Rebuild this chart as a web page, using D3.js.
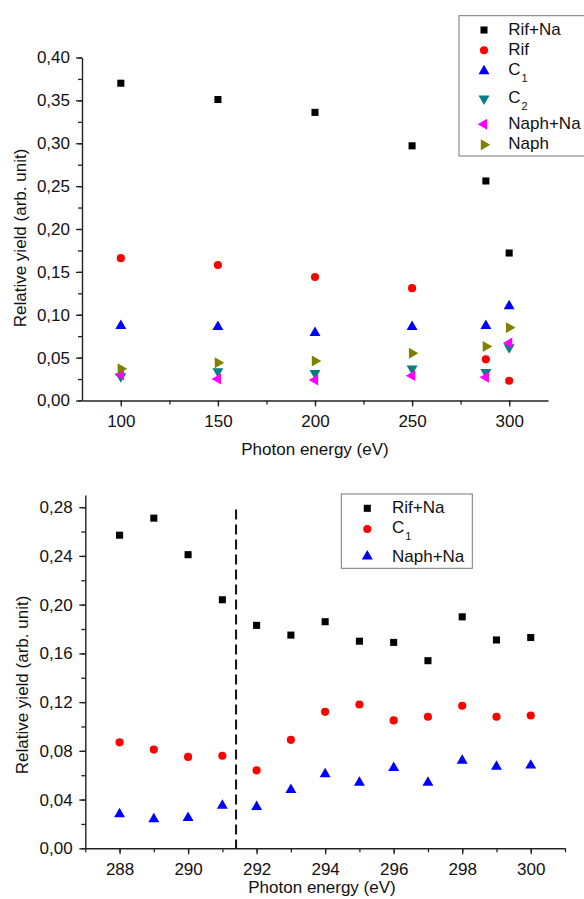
<!DOCTYPE html>
<html>
<head>
<meta charset="utf-8">
<script src="https://cdn.jsdelivr.net/npm/d3@7"></script>
<style>
  body { margin: 0; background: #fff; }
  text { font-family: Arial, "Liberation Sans", sans-serif; fill: #111; }
</style>
</head>
<body>
<div id="vis"></div>
<script>
// top panel: 100-300 eV
const energyTop = [100, 150, 200, 250, 288, 300];
const rifNaTop  = [0.370, 0.351, 0.336, 0.297, 0.256, 0.172];
const rifTop    = [0.166, 0.158, 0.144, 0.131, 0.048, 0.023];
const c1Top     = [0.087, 0.086, 0.079, 0.086, 0.087, 0.110];
const c2Top     = [0.028, 0.034, 0.032, 0.037, 0.033, 0.062];
const naphNaTop = [0.030, 0.025, 0.024, 0.029, 0.027, 0.067];
const naphTop   = [0.037, 0.044, 0.046, 0.055, 0.063, 0.085];
const topXTicks = [100, 150, 200, 250, 300];
const topYTicks = [0, 0.05, 0.10, 0.15, 0.20, 0.25, 0.30, 0.35, 0.40];

// bottom panel: 288-300 eV
const energyBottom = [288, 289, 290, 291, 292, 293, 294, 295, 296, 297, 298, 299, 300];
const rifNaBottom  = [0.257, 0.271, 0.241, 0.204, 0.183, 0.175, 0.186, 0.170, 0.169, 0.154, 0.190, 0.171, 0.173];
const c1Bottom     = [0.087, 0.081, 0.075, 0.076, 0.064, 0.089, 0.112, 0.118, 0.105, 0.108, 0.117, 0.108, 0.109];
const naphNaBottom = [0.028, 0.024, 0.025, 0.035, 0.034, 0.048, 0.061, 0.054, 0.066, 0.054, 0.072, 0.067, 0.068];
const bottomXTicks = [288, 290, 292, 294, 296, 298, 300];
const bottomYTicks = [0, 0.04, 0.08, 0.12, 0.16, 0.20, 0.24, 0.28];
const edgeEnergy = 291.4;

const comma = d3.formatLocale({decimal: ",", thousands: ".", grouping: [3], currency: ["", ""]});
const fmt2 = comma.format(".2f");

let svg = d3.select("#vis").append("svg")
    .attr("width", 584)
    .attr("height", 899);

// marker shapes
const shapes = {
  square: {type: d3.symbolSquare, size: 50, rot: 0},
  circle: {type: d3.symbolCircle, size: 52, rot: 0},
  up:     {type: d3.symbolTriangle, size: 52, rot: 0},
  down:   {type: d3.symbolTriangle, size: 52, rot: 180},
  left:   {type: d3.symbolTriangle, size: 52, rot: -90},
  right:  {type: d3.symbolTriangle, size: 52, rot: 90}
};

function marker(g, shape, color, cx, cy){
  let s = shapes[shape];
  g.append("path")
    .attr("d", d3.symbol().type(s.type).size(s.size)())
    .attr("transform", "translate(" + cx + "," + cy + ")rotate(" + s.rot + ")")
    .attr("fill", color);
}

function drawAxes(x, y, xTicks, xMinor, yTicks, yMinor, xPad, yPad){
  let h = y.range()[0];
  let left = x.range()[0];
  // minor ticks first
  svg.append("g")
    .attr("transform", "translate(0," + h + ")")
    .call(d3.axisBottom(x).tickValues(xMinor).tickSize(4).tickSizeOuter(0).tickFormat(""))
    .call(g => g.select(".domain").remove());
  svg.append("g")
    .attr("transform", "translate(" + left + ",0)")
    .call(d3.axisLeft(y).tickValues(yMinor).tickSize(4).tickSizeOuter(0).tickFormat(""))
    .call(g => g.select(".domain").remove());

  let gx = svg.append("g")
    .attr("transform", "translate(0," + h + ")")
    .call(d3.axisBottom(x).tickValues(xTicks).tickSize(6).tickSizeOuter(0).tickPadding(xPad));
  let gy = svg.append("g")
    .attr("transform", "translate(" + left + ",0)")
    .call(d3.axisLeft(y).tickValues(yTicks).tickSize(6).tickSizeOuter(0).tickPadding(yPad).tickFormat(fmt2));
  [gx, gy].forEach(function(g){
    g.selectAll("text").style("font-size", "17px").attr("fill", "#111");
    g.select(".domain").attr("stroke", "#222").attr("stroke-width", 1.4);
  });
  svg.selectAll("g line").attr("stroke", "#222").attr("stroke-width", 1.3);
}

function titles(xLabel, xx, xy, yx, yy){
  svg.append("text")
    .attr("x", xx).attr("y", xy)
    .attr("text-anchor", "middle")
    .style("font-size", "17px")
    .text(xLabel);
  svg.append("text")
    .attr("transform", "translate(" + yx + "," + yy + ")rotate(-90)")
    .attr("text-anchor", "middle")
    .style("font-size", "17px")
    .text("Relative yield (arb. unit)");
}

function legend(box, items, symX, textX){
  svg.append("rect")
    .attr("x", box[0]).attr("y", box[1])
    .attr("width", box[2]).attr("height", box[3])
    .attr("fill", "#fff")
    .attr("stroke", "#777")
    .attr("stroke-width", 1);
  items.forEach(function(it){
    marker(svg, it.shape, it.color, symX, it.sy);
    let t = svg.append("text")
      .attr("x", textX).attr("y", it.ty)
      .style("font-size", "17px")
      .text(it.label);
    if(it.sub){
      t.append("tspan")
        .attr("dx", 1).attr("dy", 7)
        .style("font-size", "11px")
        .text(it.sub);
    }
  });
}

// ---------- top chart ----------
let x1 = d3.scaleLinear().domain([80, 320]).range([82, 548]);
let y1 = d3.scaleLinear().domain([0, 0.40]).range([400.5, 57.5]);

drawAxes(x1, y1, topXTicks, d3.range(100, 325, 25), topYTicks, d3.range(0, 0.41, 0.025), 8.5, 6);
titles("Photon energy (eV)", 315, 454.5, 26, 238);

const topSeries = [
  {vals: rifNaTop,  shape: "square", color: "#000000", label: "Rif+Na"},
  {vals: rifTop,    shape: "circle", color: "#ff0000", label: "Rif"},
  {vals: c1Top,     shape: "up",     color: "#0000ff", label: "C", sub: "1"},
  {vals: c2Top,     shape: "down",   color: "#008080", label: "C", sub: "2"},
  {vals: naphNaTop, shape: "left",   color: "#ff00ff", label: "Naph+Na"},
  {vals: naphTop,   shape: "right",  color: "#808000", label: "Naph"}
];
let gTop = svg.append("g");
topSeries.forEach(function(s){
  s.vals.forEach(function(v, i){
    marker(gTop, s.shape, s.color, x1(energyTop[i]), y1(v));
  });
});

const topLegendPos = [[30, 35], [50.3, 55.3], [71, 75], [98.7, 102.7], [124.3, 129], [144.7, 149.3]];
legend([459, 15.7, 140, 140.3],
  topSeries.map((s, i) => Object.assign({}, s, {sy: topLegendPos[i][0], ty: topLegendPos[i][1]})),
  484, 508.3);

// ---------- bottom chart ----------
let x2 = d3.scaleLinear().domain([287, 301]).range([85.3, 565]);
let y2 = d3.scaleLinear().domain([0, 0.29]).range([848.3, 495]);

drawAxes(x2, y2, bottomXTicks, d3.range(287, 302, 1), bottomYTicks, d3.range(0, 0.29, 0.02), 9, 6.6);
titles("Photon energy (eV)", 322, 893, 28, 685);

svg.append("line")
  .attr("x1", x2(edgeEnergy)).attr("x2", x2(edgeEnergy))
  .attr("y1", y2(0.278)).attr("y2", y2(0))
  .attr("stroke", "#111")
  .attr("stroke-width", 2)
  .attr("stroke-dasharray", "10,5");

const bottomSeries = [
  {vals: rifNaBottom,  shape: "square", color: "#000000", label: "Rif+Na"},
  {vals: c1Bottom,     shape: "circle", color: "#ff0000", label: "C", sub: "1"},
  {vals: naphNaBottom, shape: "up",     color: "#0000ff", label: "Naph+Na"}
];
let gBot = svg.append("g");
bottomSeries.forEach(function(s){
  s.vals.forEach(function(v, i){
    marker(gBot, s.shape, s.color, x2(energyBottom[i]), y2(v));
  });
});

const botLegendPos = [[508.3, 513.3], [529, 533.3], [556.3, 561.7]];
legend([341.3, 494, 131, 74.3],
  bottomSeries.map((s, i) => Object.assign({}, s, {sy: botLegendPos[i][0], ty: botLegendPos[i][1]})),
  367.3, 392);
</script>
</body>
</html>
